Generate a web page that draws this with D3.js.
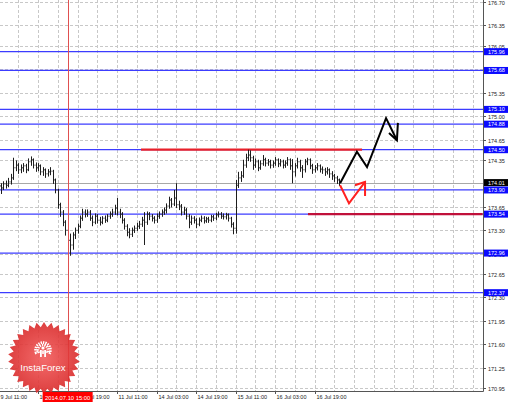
<!DOCTYPE html>
<html>
<head>
<meta charset="utf-8">
<script src="https://cdn.jsdelivr.net/npm/d3@7"></script>
<style>
  html, body { margin: 0; padding: 0; background: #fff; overflow: hidden; }
  text { font-family: "Liberation Sans", Arial, sans-serif; }
</style>
</head>
<body>
<div id="chart"></div>
<script>
/* global d3 */

// H1 bars, [open, high, low, close], from 9 Jul 11:00
const bars = [
  [173.99, 174.05, 173.85, 173.96], [173.96, 174.00, 173.84, 173.93], [173.93, 174.03, 173.90, 173.99],
  [173.99, 174.04, 173.92, 173.97], [173.97, 174.08, 173.94, 174.02], [174.02, 174.14, 173.98, 174.08],
  [174.08, 174.38, 174.05, 174.23], [174.23, 174.34, 174.18, 174.27], [174.27, 174.30, 174.14, 174.20],
  [174.20, 174.28, 174.15, 174.23], [174.23, 174.30, 174.17, 174.26], [174.26, 174.29, 174.15, 174.20],
  [174.20, 174.37, 174.18, 174.32], [174.32, 174.40, 174.26, 174.35], [174.35, 174.37, 174.22, 174.27],
  [174.27, 174.31, 174.17, 174.23], [174.23, 174.30, 174.18, 174.26], [174.26, 174.28, 174.12, 174.17],
  [174.17, 174.24, 174.11, 174.20], [174.20, 174.22, 174.08, 174.14], [174.14, 174.21, 174.10, 174.17],
  [174.17, 174.24, 174.12, 174.18], [174.18, 174.20, 173.99, 174.05], [174.05, 174.07, 173.85, 173.90],
  [173.90, 173.92, 173.62, 173.68], [173.68, 173.71, 173.50, 173.57], [173.57, 173.60, 173.36, 173.42],
  [173.42, 173.45, 173.22, 173.30], [173.30, 173.33, 173.05, 173.15], [173.15, 173.25, 172.92, 173.08],
  [173.08, 173.27, 173.01, 173.23], [173.23, 173.34, 173.17, 173.30], [173.30, 173.40, 173.25, 173.36],
  [173.36, 173.52, 173.33, 173.48], [173.48, 173.62, 173.44, 173.57], [173.57, 173.61, 173.49, 173.54],
  [173.54, 173.61, 173.50, 173.57], [173.57, 173.60, 173.44, 173.48], [173.48, 173.52, 173.36, 173.42],
  [173.42, 173.55, 173.39, 173.51], [173.51, 173.54, 173.40, 173.45], [173.45, 173.50, 173.37, 173.42],
  [173.42, 173.51, 173.39, 173.48], [173.48, 173.52, 173.41, 173.45], [173.45, 173.54, 173.42, 173.51],
  [173.51, 173.58, 173.47, 173.54], [173.54, 173.62, 173.50, 173.57], [173.57, 173.68, 173.53, 173.63],
  [173.63, 173.78, 173.52, 173.57], [173.57, 173.62, 173.48, 173.54], [173.54, 173.57, 173.40, 173.45],
  [173.45, 173.48, 173.31, 173.36], [173.36, 173.39, 173.21, 173.27], [173.27, 173.33, 173.18, 173.24],
  [173.24, 173.34, 173.20, 173.30], [173.30, 173.37, 173.26, 173.33], [173.33, 173.41, 173.29, 173.36],
  [173.36, 173.44, 173.32, 173.39], [173.39, 173.50, 173.35, 173.45], [173.45, 173.57, 173.08, 173.42],
  [173.42, 173.58, 173.38, 173.54], [173.54, 173.57, 173.45, 173.51], [173.51, 173.54, 173.43, 173.48],
  [173.48, 173.51, 173.40, 173.45], [173.45, 173.55, 173.41, 173.51], [173.51, 173.58, 173.47, 173.54],
  [173.54, 173.61, 173.50, 173.57], [173.57, 173.64, 173.53, 173.60], [173.60, 173.70, 173.55, 173.66],
  [173.66, 173.80, 173.62, 173.75], [173.75, 173.78, 173.64, 173.69], [173.69, 173.90, 173.66, 173.78],
  [173.78, 174.00, 173.63, 173.68], [173.68, 173.74, 173.60, 173.66], [173.66, 173.69, 173.52, 173.57],
  [173.57, 173.65, 173.53, 173.60], [173.60, 173.63, 173.46, 173.51], [173.51, 173.54, 173.33, 173.42],
  [173.42, 173.52, 173.38, 173.48], [173.48, 173.51, 173.40, 173.45], [173.45, 173.48, 173.33, 173.39],
  [173.39, 173.49, 173.36, 173.45], [173.45, 173.52, 173.42, 173.48], [173.48, 173.51, 173.40, 173.44],
  [173.44, 173.50, 173.41, 173.47], [173.47, 173.50, 173.41, 173.45], [173.45, 173.53, 173.42, 173.50],
  [173.50, 173.53, 173.44, 173.48], [173.48, 173.56, 173.45, 173.53], [173.53, 173.58, 173.49, 173.54],
  [173.54, 173.57, 173.47, 173.51], [173.51, 173.55, 173.46, 173.50], [173.50, 173.56, 173.46, 173.53],
  [173.53, 173.55, 173.43, 173.48], [173.48, 173.50, 173.34, 173.39], [173.39, 173.42, 173.24, 173.33],
  [173.33, 174.05, 173.25, 173.97], [173.97, 174.17, 173.93, 174.08], [174.08, 174.18, 174.02, 174.11],
  [174.11, 174.35, 174.08, 174.27], [174.27, 174.44, 174.23, 174.38], [174.38, 174.50, 174.33, 174.42],
  [174.42, 174.49, 174.32, 174.38], [174.38, 174.41, 174.20, 174.27], [174.27, 174.37, 174.23, 174.32],
  [174.32, 174.35, 174.18, 174.23], [174.23, 174.34, 174.20, 174.29], [174.29, 174.42, 174.26, 174.35],
  [174.35, 174.38, 174.25, 174.30], [174.30, 174.36, 174.26, 174.32], [174.32, 174.35, 174.22, 174.27],
  [174.27, 174.34, 174.23, 174.30], [174.30, 174.39, 174.26, 174.35], [174.35, 174.37, 174.24, 174.29],
  [174.29, 174.36, 174.25, 174.32], [174.32, 174.35, 174.22, 174.27], [174.27, 174.34, 174.23, 174.30],
  [174.30, 174.39, 174.26, 174.35], [174.35, 174.37, 174.20, 174.26], [174.26, 174.36, 174.00, 174.17],
  [174.17, 174.30, 174.10, 174.26], [174.26, 174.38, 174.22, 174.32], [174.32, 174.35, 174.17, 174.23],
  [174.23, 174.27, 174.08, 174.20], [174.20, 174.36, 174.16, 174.32], [174.32, 174.38, 174.27, 174.35],
  [174.35, 174.37, 174.21, 174.26], [174.26, 174.29, 174.14, 174.20], [174.20, 174.27, 174.16, 174.23],
  [174.23, 174.30, 174.19, 174.26], [174.26, 174.28, 174.16, 174.21], [174.21, 174.25, 174.14, 174.20],
  [174.20, 174.23, 174.11, 174.17], [174.17, 174.24, 174.13, 174.20], [174.20, 174.22, 174.08, 174.14],
  [174.14, 174.18, 174.05, 174.11], [174.11, 174.14, 174.02, 174.08], [174.08, 174.11, 173.99, 174.05],
  [174.05, 174.07, 173.96, 174.01]
];

// horizontal support / resistance levels (blue)
const levels = [175.96, 175.68, 175.10, 174.88, 174.50, 173.90, 173.54, 172.96, 172.37];
const lastPrice = 174.01;

// red segments: [fromBar, toBar, price]
const redLevels = [[57.7, 147.2, 174.50], [125.3, 196, 173.54]];

// forecast arrows as [bar, price]
const blackPath = [[138.3, 174.00], [145.1, 174.47], [149.2, 174.24], [156.9, 174.97], [161.3, 174.64]];
const blackHead = [[158.1, 174.75], [161.3, 174.64], [161.7, 174.90]];
const redPath = [[138.3, 173.97], [141.9, 173.70], [148.4, 174.02]];
const redHead = [[144.3, 173.97], [148.4, 174.02], [148.4, 173.81]];

// price scale tick labels
const priceTicks = [176.70, 176.35, 176.05, 175.70, 175.35, 175.00, 174.65, 174.35, 174.00,
  173.65, 173.30, 172.95, 172.65, 172.30, 171.95, 171.60, 171.25, 170.95];

// time scale labels, one every 16 bars
const timeTickBars = [0, 16, 32, 48, 64, 80, 96, 112, 128];
const timeLabels = ['9 Jul 11:00', '10 Jul 03:00', '10 Jul 19:00', '11 Jul 11:00', '14 Jul 03:00',
  '14 Jul 19:00', '15 Jul 11:00', '16 Jul 03:00', '16 Jul 19:00'];
const cursorBar = 28;
const cursorLabel = '2014.07.10 15:00';

const W = 510;
const H = 403;
const plotRight = 483;
const plotBottom = 391;
const barStep = 2.47;
const barX0 = -1.5;

const x = d3.scaleLinear().domain([0, 200]).range([barX0, barX0 + 200 * barStep]);
const y = d3.scaleLinear().domain([170.95, 176.70]).range([388, 2]);

const svg = d3.select('#chart').append('svg').attr('width', W).attr('height', H)
  .style('display', 'block').style('background', '#fff');

const plot = svg.append('g');
plot.append('clipPath').attr('id', 'clip')
  .append('rect').attr('x', 0).attr('y', 0).attr('width', plotRight).attr('height', plotBottom);
const inner = plot.append('g').attr('clip-path', 'url(#clip)');

// grid
inner.selectAll('.hgrid').data(priceTicks).enter().append('line')
  .attr('x1', 0).attr('x2', plotRight)
  .attr('y1', (d) => Math.round(y(d)) + 0.5).attr('y2', (d) => Math.round(y(d)) + 0.5)
  .attr('stroke', '#c8c8c8').attr('stroke-dasharray', '3,2');

inner.selectAll('.vgrid').data(d3.range(8, 200, 8)).enter().append('line')
  .attr('x1', (d) => Math.round(x(d)) + 0.5).attr('x2', (d) => Math.round(x(d)) + 0.5)
  .attr('y1', 0).attr('y2', plotBottom)
  .attr('stroke', '#c8c8c8').attr('stroke-dasharray', '3,2');

// current price line
inner.append('line')
  .attr('x1', 0).attr('x2', plotRight)
  .attr('y1', Math.round(y(lastPrice)) + 0.5).attr('y2', Math.round(y(lastPrice)) + 0.5)
  .attr('stroke', '#a8a8a8');

// blue levels
inner.selectAll('.level').data(levels).enter().append('line')
  .attr('x1', 0).attr('x2', plotRight)
  .attr('y1', (d) => y(d)).attr('y2', (d) => y(d))
  .attr('stroke', '#3c3cff').attr('stroke-width', 1.3);

// red levels
inner.selectAll('.red').data(redLevels).enter().append('line')
  .attr('x1', (d) => x(d[0])).attr('x2', (d) => x(d[1]))
  .attr('y1', (d) => y(d[2])).attr('y2', (d) => y(d[2]))
  .attr('stroke', (d, i) => (i === 0 ? '#e8202a' : '#c0103a'))
  .attr('stroke-width', 2.2);

// price bars
const barG = inner.append('g').attr('stroke', '#1e1e1e').attr('stroke-width', 1);
bars.forEach((b, i) => {
  const cx = Math.round(x(i)) + 0.5;
  barG.append('line').attr('x1', cx).attr('x2', cx).attr('y1', y(b[1])).attr('y2', y(b[2]));
  barG.append('line').attr('x1', cx - 1).attr('x2', cx).attr('y1', y(b[0])).attr('y2', y(b[0]));
  barG.append('line').attr('x1', cx).attr('x2', cx + 1).attr('y1', y(b[3])).attr('y2', y(b[3]));
});

// forecast arrows
const line = d3.line().x((d) => x(d[0])).y((d) => y(d[1]));
inner.append('path').attr('d', line(blackPath)).attr('fill', 'none')
  .attr('stroke', '#000').attr('stroke-width', 2).attr('stroke-linejoin', 'miter');
inner.append('path').attr('d', line(blackHead)).attr('fill', 'none')
  .attr('stroke', '#000').attr('stroke-width', 2);
inner.append('path').attr('d', line(redPath)).attr('fill', 'none')
  .attr('stroke', '#ff2020').attr('stroke-width', 2);
inner.append('path').attr('d', line(redHead)).attr('fill', 'none')
  .attr('stroke', '#ff2020').attr('stroke-width', 2);

// cursor line
inner.append('line')
  .attr('x1', Math.round(x(cursorBar)) + 0.5).attr('x2', Math.round(x(cursorBar)) + 0.5)
  .attr('y1', 0).attr('y2', plotBottom)
  .attr('stroke', '#e05050').attr('stroke-width', 1);

// frame
svg.append('line').attr('x1', plotRight + 0.5).attr('x2', plotRight + 0.5).attr('y1', 0).attr('y2', plotBottom + 0.5)
  .attr('stroke', '#555');
svg.append('line').attr('x1', 0).attr('x2', plotRight + 0.5).attr('y1', plotBottom + 0.5).attr('y2', plotBottom + 0.5)
  .attr('stroke', '#555');

// price axis labels
const axisG = svg.append('g');
priceTicks.forEach((p) => {
  const py = Math.round(y(p)) + 0.5;
  axisG.append('line').attr('x1', plotRight).attr('x2', plotRight + 3).attr('y1', py).attr('y2', py).attr('stroke', '#555');
  axisG.append('text').attr('x', plotRight + 5).attr('y', py + 2)
    .attr('font-size', 5.5).attr('fill', '#222').text(p.toFixed(2));
});

const tag = (price, bg) => {
  const py = y(price);
  axisG.append('rect').attr('x', plotRight + 1).attr('y', py - 3.5).attr('width', 24).attr('height', 7).attr('fill', bg);
  axisG.append('text').attr('x', plotRight + 5).attr('y', py + 2)
    .attr('font-size', 5.5).attr('fill', '#fff').text(price.toFixed(2));
};
levels.forEach((l) => tag(l, '#0a0aff'));
tag(lastPrice, '#000');

// time axis labels
timeTickBars.forEach((b, i) => {
  const tx = Math.round(x(b)) + 0.5;
  svg.append('line').attr('x1', tx).attr('x2', tx).attr('y1', plotBottom).attr('y2', plotBottom + 3).attr('stroke', '#555');
  svg.append('text').attr('x', Math.max(tx + 1, 0)).attr('y', 399)
    .attr('font-size', 5.5).attr('font-family', '"Liberation Sans Narrow", "Liberation Sans", sans-serif')
    .attr('fill', '#222').text(timeLabels[i]);
});

// InstaForex badge
const logo = svg.append('g').attr('transform', 'translate(44,358)');
const nPts = 30;
const star = d3.range(nPts * 2).map((k) => {
  const a = (k * Math.PI) / nPts;
  const r = k % 2 ? 31 : 36;
  return [r * Math.sin(a), -r * Math.cos(a)];
});
const grad = svg.append('defs').append('radialGradient').attr('id', 'lg');
grad.append('stop').attr('offset', '0%').attr('stop-color', '#f25a5a');
grad.append('stop').attr('offset', '100%').attr('stop-color', '#d92a2a');
logo.append('path').attr('d', d3.line().curve(d3.curveLinearClosed)(star))
  .attr('fill', 'url(#lg)').attr('opacity', 0.9);
// icon
const icon = logo.append('g').attr('transform', 'translate(-1,-8)').attr('fill', '#fff');
icon.append('path')
  .attr('d', d3.arc().innerRadius(5).outerRadius(7.5).startAngle(-Math.PI * 0.62).endAngle(Math.PI * 0.62)())
  .attr('fill', 'none').attr('stroke', '#fff').attr('stroke-width', 2.6).attr('stroke-dasharray', '1.4,1');
icon.append('circle').attr('cx', 0).attr('cy', -2).attr('r', 1.6);
icon.append('rect').attr('x', -3).attr('y', 0).attr('width', 1.8).attr('height', 7);
icon.append('rect').attr('x', 1.2).attr('y', 0).attr('width', 1.8).attr('height', 7);
icon.append('rect').attr('x', -0.8).attr('y', 0.5).attr('width', 1.6).attr('height', 3.5);
logo.append('text').attr('x', -1).attr('y', 13).attr('text-anchor', 'middle')
  .attr('font-size', 9.6).attr('fill', '#fff').text('InstaForex');

// cursor time label
const cx0 = x(cursorBar);
svg.append('rect').attr('x', cx0 - 25).attr('y', 392).attr('width', 50).attr('height', 10).attr('fill', '#ff0000');
svg.append('text').attr('x', cx0).attr('y', 399.5).attr('text-anchor', 'middle')
  .attr('font-size', 5.8).attr('fill', '#fff').text(cursorLabel);
</script>
</body>
</html>
